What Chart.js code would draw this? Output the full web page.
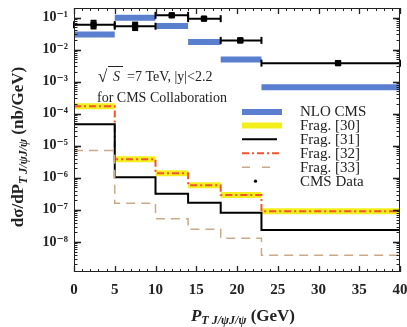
<!DOCTYPE html>
<html><head><meta charset="utf-8">
<script src="https://cdn.jsdelivr.net/npm/chart.js@4.4.1/dist/chart.umd.min.js"></script>
<style>html,body{margin:0;padding:0;background:#fff;}</style>
</head><body>
<canvas id="c" width="407" height="327"></canvas>
<script>
// ---- data ----
const binEdges = [0, 5, 10, 14, 18, 23, 40];
const nloCMS  = [0.030, 0.100, 0.055, 0.0175, 0.0049, 6.7e-4];
const frag30  = [1.7e-4, 3.8e-6, 1.38e-6, 5.9e-7, 2.9e-7, 9.1e-8];
const frag31  = [4.7e-5, 1.05e-6, 3.2e-7, 1.66e-7, 8.2e-8, 2.35e-8];
const frag32  = [1.7e-4, 3.8e-6, 1.38e-6, 5.9e-7, 2.9e-7, 9.1e-8];
const frag33  = [7.1e-6, 1.6e-7, 5.3e-8, 2.5e-8, 1.29e-8, 3.8e-9];
const cmsPt   = [2.4, 7.5, 12.0, 15.95, 20.4, 32.4];
const cmsPtLo = [0, 5, 10, 14, 18, 23];
const cmsPtHi = [5, 10, 14, 18, 23, 40];
const cmsVal  = [0.0605, 0.054, 0.118, 0.093, 0.0195, 0.0038];
const cmsLo   = [0.046, 0.041, 0.105, 0.085, 0.017, 0.0034];
const cmsHi   = [0.080, 0.070, 0.130, 0.102, 0.022, 0.0042];
const xTickLabels = [0, 5, 10, 15, 20, 25, 30, 35, 40];
const yTickExps   = [-1, -2, -3, -4, -5, -6, -7, -8];
const legendLabels = ['NLO CMS', 'Frag. [30]', 'Frag. [31]', 'Frag. [32]', 'Frag. [33]', 'CMS Data'];

const SERIF = "'Liberation Serif','Times New Roman','DejaVu Serif',serif";
const SUP = {'-':'\u207B','0':'\u2070','1':'\u00B9','2':'\u00B2','3':'\u00B3','4':'\u2074','5':'\u2075','6':'\u2076','7':'\u2077','8':'\u2078','9':'\u2079'};
const sup = s => String(s).split('').map(c => SUP[c] || c).join('');

const COL = {blue:'#5b7fcf', yellow:'#f3ef1c', red:'#f2542d', black:'#000', tan:'#c9a98a'};

function histPoints(vals){
  const pts = vals.map((v,i)=>({x:binEdges[i], y:v}));
  pts.push({x:binEdges[binEdges.length-1], y:vals[vals.length-1]});
  return pts;
}
function barPoints(vals){
  const pts = [];
  vals.forEach((v,i)=>{
    pts.push({x:binEdges[i], y:v});
    pts.push({x:binEdges[i+1], y:v});
    if (i < vals.length-1) pts.push({x:binEdges[i+1], y:null});
  });
  return pts;
}

const line = (ctx,x1,y1,x2,y2)=>{ctx.beginPath();ctx.moveTo(x1,y1);ctx.lineTo(x2,y2);ctx.stroke();};

const decorPlugin = {
  id:'decor',
  afterDatasetsDraw(chart){
    const {ctx, scales:{x,y}} = chart;
    ctx.save();
    ctx.strokeStyle = '#000'; ctx.lineWidth = 2;
    cmsPt.forEach((p,i)=>{
      const px = x.getPixelForValue(p), py = y.getPixelForValue(cmsVal[i]);
      const xl = x.getPixelForValue(cmsPtLo[i]), xh = x.getPixelForValue(cmsPtHi[i]);
      const yl = y.getPixelForValue(cmsLo[i]), yh = y.getPixelForValue(cmsHi[i]);
      line(ctx, xl, py, xh, py);
      line(ctx, xl, py-3.5, xl, py+3.5);
      line(ctx, xh, py-3.5, xh, py+3.5);
      line(ctx, px, yl, px, yh);
      line(ctx, px-3, yl, px+3, yl);
      line(ctx, px-3, yh, px+3, yh);
    });
    ctx.restore();
  },
  afterDraw(chart){
    const {ctx, chartArea:a, scales:{x,y}} = chart;
    ctx.save();
    // frame
    ctx.strokeStyle = '#222'; ctx.lineWidth = 1;
    ctx.strokeRect(a.left+0.5, a.top+0.5, a.right-a.left-1, a.bottom-a.top-1);
    // x ticks (inward, mirrored)
    for (let v=0; v<=40; v++){
      const px = Math.round(x.getPixelForValue(v))+0.5;
      const L = (v%5===0) ? 6 : 3;
      ctx.lineWidth = (v%5===0) ? 1.3 : 1;
      line(ctx, px, a.bottom, px, a.bottom-L);
      line(ctx, px, a.top, px, a.top+L);
    }
    // y ticks
    for (let e=-10; e<=0; e++){
      for (let m=1; m<=9; m++){
        const v = m*Math.pow(10,e);
        if (v < y.min || v > y.max) continue;
        const py = Math.round(y.getPixelForValue(v))+0.5;
        const L = (m===1) ? 7 : 3.5;
        ctx.lineWidth = (m===1) ? 1.6 : 1;
        line(ctx, a.left, py, a.left+L, py);
        line(ctx, a.right, py, a.right-L, py);
      }
    }
    // y title
    ctx.fillStyle = '#222';
    ctx.save();
    ctx.translate(18, 147);
    ctx.rotate(-Math.PI/2);
    const f1 = "bold 17px "+SERIF, f2 = "italic bold 12px "+SERIF;
    const p1 = 'd\u03C3/dP', p2 = 'T J/\u03C8J/\u03C8', p3 = ' (nb/GeV)';
    ctx.font = f1; const w1 = ctx.measureText(p1).width, w3 = ctx.measureText(p3).width;
    ctx.font = f2; const w2 = ctx.measureText(p2).width;
    let sx = -(w1+w2+w3)/2;
    ctx.textBaseline = 'alphabetic'; ctx.textAlign = 'left';
    ctx.font = f1; ctx.fillText(p1, sx, 5); sx += w1;
    ctx.font = f2; ctx.fillText(p2, sx, 9); sx += w2;
    ctx.font = f1; ctx.fillText(p3, sx, 5);
    ctx.restore();
    // x title
    {
      const g1 = "italic bold 17px "+SERIF, g2 = "italic bold 12px "+SERIF, g3 = "bold 17px "+SERIF;
      const q1 = 'P', q2 = 'T J/\u03C8J/\u03C8', q3 = ' (GeV)';
      ctx.font = g1; const a1 = ctx.measureText(q1).width;
      ctx.font = g2; const a2 = ctx.measureText(q2).width;
      ctx.font = g3; const a3 = ctx.measureText(q3).width;
      let tx = 243 - (a1+a2+a3)/2; const by = 321;
      ctx.textAlign='left'; ctx.textBaseline='alphabetic';
      ctx.font = g1; ctx.fillText(q1, tx, by); tx += a1;
      ctx.font = g2; ctx.fillText(q2, tx, by+3); tx += a2;
      ctx.font = g3; ctx.fillText(q3, tx, by);
    }
    // annotation
    ctx.textAlign='left'; ctx.textBaseline='alphabetic';
    ctx.font = "17px "+SERIF; ctx.fillText('\u221A', 98, 82);
    ctx.font = "italic 14px "+SERIF; ctx.fillText('S', 113, 81);
    ctx.lineWidth = 1; ctx.strokeStyle = '#222';
    line(ctx, 108, 66.5, 123, 66.5);
    ctx.font = "14px "+SERIF; ctx.fillText('=7 TeV, |y|<2.2', 127, 81);
    ctx.fillText('for CMS Collaboration', 97, 102);
    // legend
    const ly = [112, 125.5, 139.3, 153.2, 167.3, 181.2];
    const lx0 = 242, lx1 = 282;
    ctx.lineCap = 'butt';
    ctx.strokeStyle = COL.blue; ctx.lineWidth = 6; line(ctx, lx0, ly[0], lx1, ly[0]);
    ctx.strokeStyle = COL.yellow; ctx.lineWidth = 6; line(ctx, lx0, ly[1], lx1, ly[1]);
    ctx.strokeStyle = COL.black; ctx.lineWidth = 2; line(ctx, lx0, ly[2], lx1-5, ly[2]);
    ctx.strokeStyle = COL.red; ctx.lineWidth = 2; ctx.setLineDash([7,3,2,3]); line(ctx, lx0, ly[3], lx1, ly[3]);
    ctx.strokeStyle = COL.tan; ctx.lineWidth = 1.5; ctx.setLineDash([8,12]); line(ctx, lx0, ly[4], lx1, ly[4]);
    ctx.setLineDash([]);
    ctx.fillStyle = '#000'; ctx.beginPath(); ctx.arc(255.5, ly[5], 1.6, 0, Math.PI*2); ctx.fill();
    ctx.fillStyle = '#222'; ctx.font = "15px "+SERIF; ctx.textBaseline = 'middle';
    legendLabels.forEach((t,i)=> ctx.fillText(t, 300, ly[i]+0.5));
    ctx.restore();
  }
};

new Chart(document.getElementById('c').getContext('2d'), {
  type:'line',
  data:{datasets:[
    {label:'CMS Data', type:'scatter', data: cmsPt.map((p,i)=>({x:p, y:cmsVal[i]})),
     pointStyle:'rect', pointRadius:3.8, backgroundColor:'#000', borderColor:'#000', showLine:false, order:0},
    {label:'Frag. [33]', data: histPoints(frag33), stepped:true, borderColor:COL.tan, borderWidth:1.5, borderDash:[9,6], pointRadius:0, fill:false, order:1},
    {label:'Frag. [31]', data: histPoints(frag31), stepped:true, borderColor:COL.black, borderWidth:2, pointRadius:0, fill:false, order:2},
    {label:'Frag. [32]', data: histPoints(frag32), stepped:true, borderColor:COL.red, borderWidth:2, borderDash:[7,3,2,3], pointRadius:0, fill:false, order:3},
    {label:'Frag. [30]', data: barPoints(frag30), borderColor:COL.yellow, borderWidth:6, borderCapStyle:'butt', pointRadius:0, spanGaps:false, fill:false, order:4},
    {label:'NLO CMS', data: barPoints(nloCMS), borderColor:COL.blue, borderWidth:6, borderCapStyle:'butt', pointRadius:0, spanGaps:false, fill:false, order:5}
  ]},
  options:{
    responsive:false, animation:false,
    layout:{padding:{top:8, right:7, left:0, bottom:0}},
    plugins:{legend:{display:false}, tooltip:{enabled:false}},
    scales:{
      x:{type:'linear', min:0, max:40,
         grid:{display:false, drawTicks:false}, border:{display:false},
         ticks:{stepSize:1, autoSkip:false, maxRotation:0, padding:9, color:'#222',
                font:{family:SERIF, size:15, weight:'bold'},
                callback:v => xTickLabels.includes(v) ? String(v) : ''},
         afterFit(s){ s.height = 55; s.paddingLeft = 0; s.paddingRight = 0; }},
      y:{type:'logarithmic', min:1.15e-9, max:0.2,
         grid:{display:false, drawTicks:false}, border:{display:false},
         ticks:{autoSkip:false, padding:6, color:'#222',
                font:{family:SERIF, size:14, weight:'bold'},
                callback:v => { const e = Math.log10(v); const r = Math.round(e);
                  return (Math.abs(e-r)<1e-6 && yTickExps.includes(r)) ? '10'+sup(r) : ''; }},
         afterFit(s){ s.width = 74; s.paddingTop = 0; s.paddingBottom = 0; }}
    }
  },
  plugins:[decorPlugin]
});
</script>
</body></html>
